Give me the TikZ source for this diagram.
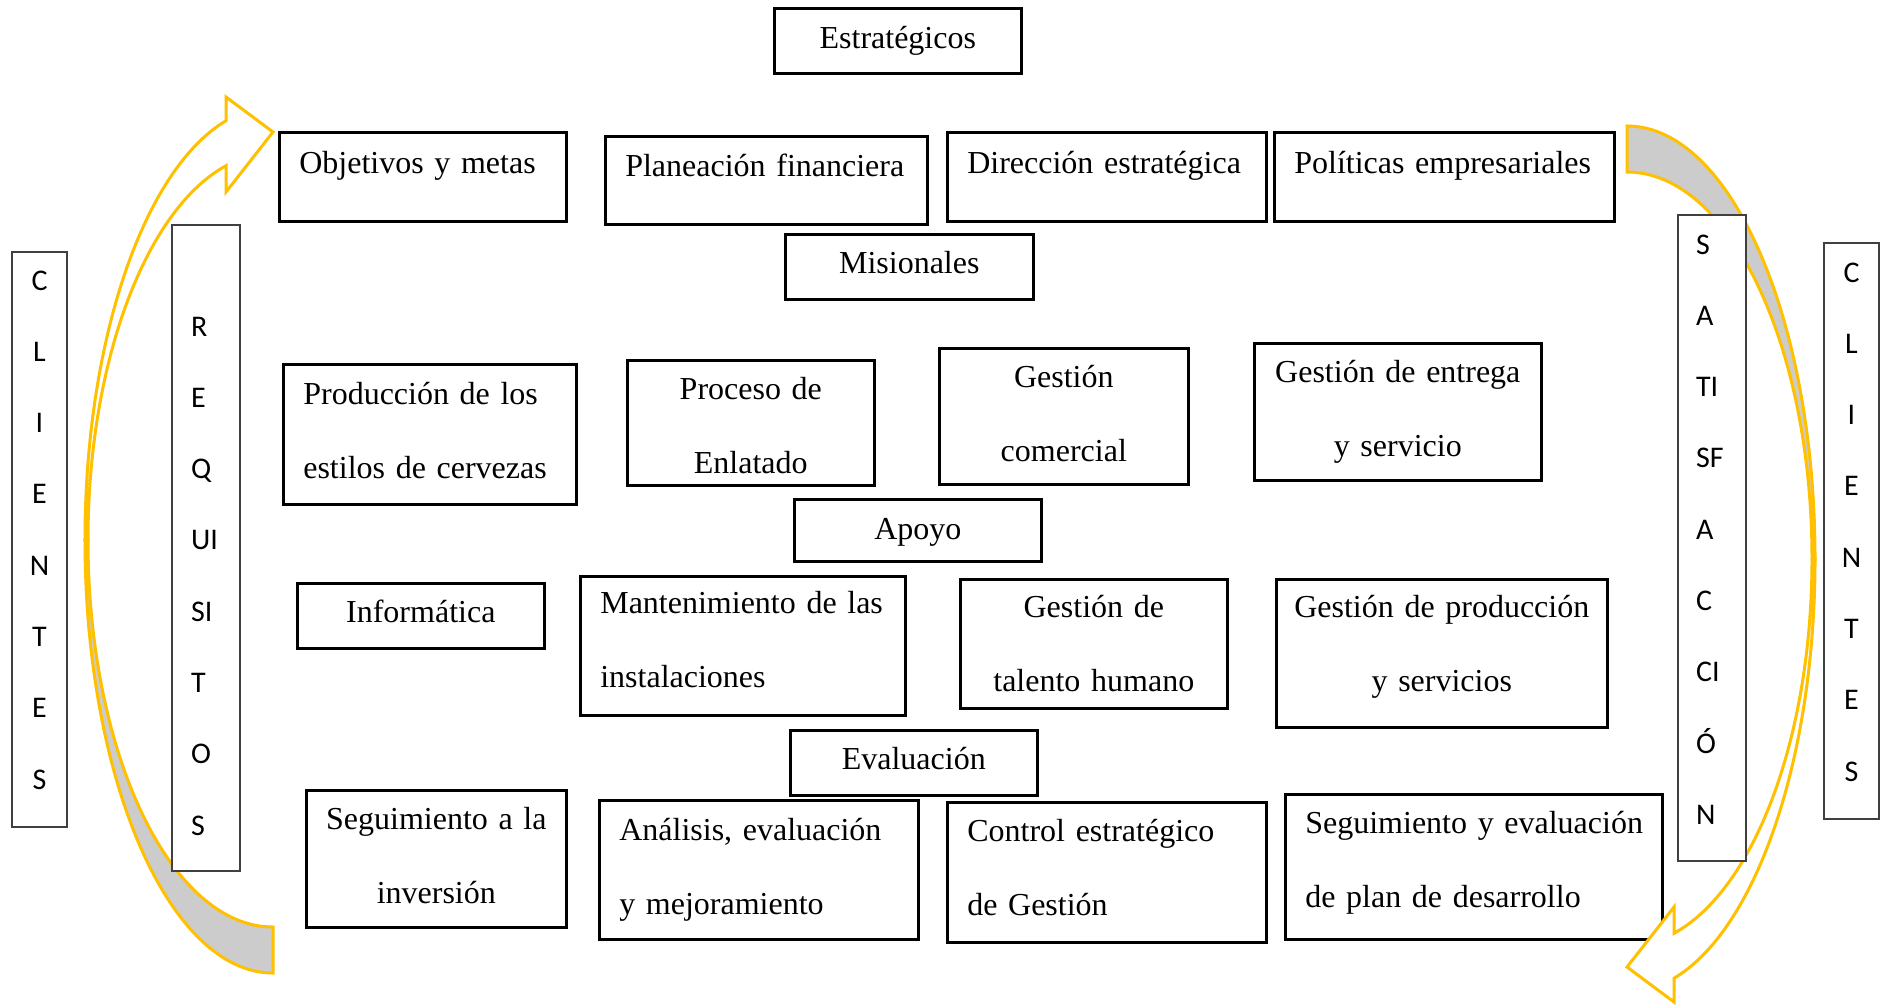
\documentclass[tikz,border=0pt]{standalone}
\usepackage{fontspec}
\setmainfont{Liberation Serif}
\newfontfamily\sidefont{Carlito}
\definecolor{arrowyellow}{HTML}{FFC000}
\definecolor{bandgray}{HTML}{CCCCCC}
\begin{document}
\begin{tikzpicture}[x=1pt,y=1pt,
  box/.style={draw=black, line width=2.6pt, fill=white, anchor=north west, inner ysep=0pt, font=\fontsize{32}{74}\selectfont},
  lbox/.style={box, inner xsep=20pt, align=left},
  cbox/.style={box, inner xsep=5pt, align=center},
  sidebox/.style={draw=black!75, line width=2pt, fill=white, anchor=north west, inner ysep=0pt, font=\sidefont\fontsize{30}{71.3}\selectfont},
  band/.style={draw=arrowyellow, line width=3pt, line join=miter, miter limit=10}
]
\useasboundingbox (0,0) rectangle (1889,-1004);
\fill[white] (0,0) rectangle (1889,-1004);

% --- main boxes ---
\node[cbox, text width=237pt, text height=40pt, text depth=25pt] (estr) at (773,-7) {Estratégicos};
\node[lbox, text width=247pt, text height=41pt, text depth=48pt] (obj) at (278,-131) {Objetivos y metas};
\node[lbox, text width=282pt, text height=40pt, text depth=48pt] (plan) at (604,-135) {Planeación financiera};
\node[lbox, text width=279pt, text height=41pt, text depth=48pt] (dir) at (946,-131) {Dirección estratégica};
\node[lbox, text width=300pt, text height=41pt, text depth=48pt] (pol) at (1273,-131) {Políticas empresariales};

\node[cbox, text width=238pt, text height=39pt, text depth=26pt] (mis) at (784,-233) {Misionales};
\node[lbox, text width=253pt, text height=40pt, text depth=100pt] (prod) at (282,-363) {Producción de los\\estilos de cervezas};
\node[cbox, text width=237pt, text height=39pt, text depth=86pt] (enl) at (626,-359) {Proceso de\\Enlatado};
\node[cbox, text width=239pt, text height=39pt, text depth=97pt] (com) at (938,-347) {Gestión\\comercial};
\node[cbox, text width=277pt, text height=39pt, text depth=98pt] (ent) at (1253,-342) {Gestión de entrega\\y servicio};

\node[cbox, text width=237pt, text height=40pt, text depth=22pt] (apo) at (793,-498) {Apoyo};
\node[cbox, text width=237pt, text height=39pt, text depth=26pt] (inf) at (296,-582) {Informática};
\node[lbox, text width=285pt, text height=37pt, text depth=102pt] (man) at (579,-575) {Mantenimiento de las\\instalaciones};
\node[cbox, text width=257pt, text height=38pt, text depth=91pt] (tal) at (959,-578) {Gestión de\\talento humano};
\node[cbox, text width=321pt, text height=38pt, text depth=110pt] (gps) at (1275,-578) {Gestión de producción\\y servicios};

\node[cbox, text width=237pt, text height=39pt, text depth=26pt] (eva) at (789,-729) {Evaluación};
\node[cbox, text width=250pt, text height=39pt, text depth=98pt] (inv) at (305,-789) {Seguimiento a la\\inversión};
\node[lbox, text width=279pt, text height=40pt, text depth=99pt] (ana) at (598,-799) {Análisis, evaluación\\y mejoramiento};
\node[lbox, text width=279pt, text height=39pt, text depth=101pt] (ctl) at (946,-801) {Control estratégico\\de Gestión};
\node[lbox, text width=337pt, text height=39pt, text depth=106pt] (seg) at (1284,-793) {\mbox{Seguimiento y evaluación}\\\mbox{de plan de desarrollo}};

% --- left curved arrow (tail bottom, head top) ---
\draw[band, fill=white] (226,-120.75) arc[start angle=104.4775, end angle=180, x radius=188pt, y radius=433pt]
  -- (88,-540) arc[start angle=180, end angle=104.718, x radius=185pt, y radius=387pt]
  -- (226,-192) -- (273,-132) -- (226,-97) -- cycle;
\draw[band, fill=bandgray] (88,-540) arc[start angle=180, end angle=270, x radius=185pt, y radius=387pt]
  -- (273,-973) arc[start angle=270, end angle=180, x radius=188pt, y radius=433pt] -- cycle;

% --- right curved arrow (tail top, head bottom) ---
\draw[band, fill=white] (1674,-978.25) arc[start angle=284.4775, end angle=360, x radius=188pt, y radius=433pt]
  -- (1812,-559) arc[start angle=360, end angle=284.718, x radius=185pt, y radius=387pt]
  -- (1674,-907) -- (1627,-967) -- (1674,-1002) -- cycle;
\draw[band, fill=bandgray] (1812,-559) arc[start angle=0, end angle=90, x radius=185pt, y radius=387pt]
  -- (1627,-126) arc[start angle=90, end angle=0, x radius=188pt, y radius=433pt] -- cycle;

% --- side boxes ---
\node[sidebox, inner xsep=2pt, text width=51pt, align=center, text height=38pt, text depth=537pt] (cliL) at (11,-251) {C\\L\\I\\E\\N\\T\\E\\S};
\node[sidebox, inner xsep=19pt, text width=30pt, align=left, text height=111pt, text depth=535pt] (req) at (171,-224) {R\\E\\Q\\UI\\SI\\T\\O\\S};
\node[sidebox, inner xsep=18pt, text width=32pt, align=left, text height=39pt, text depth=607pt] (sat) at (1677,-214) {S\\A\\TI\\SF\\A\\C\\CI\\Ó\\N};
\node[sidebox, inner xsep=2pt, text width=51pt, align=center, text height=39pt, text depth=537pt] (cliR) at (1823,-242) {C\\L\\I\\E\\N\\T\\E\\S};
\end{tikzpicture}
\end{document}
